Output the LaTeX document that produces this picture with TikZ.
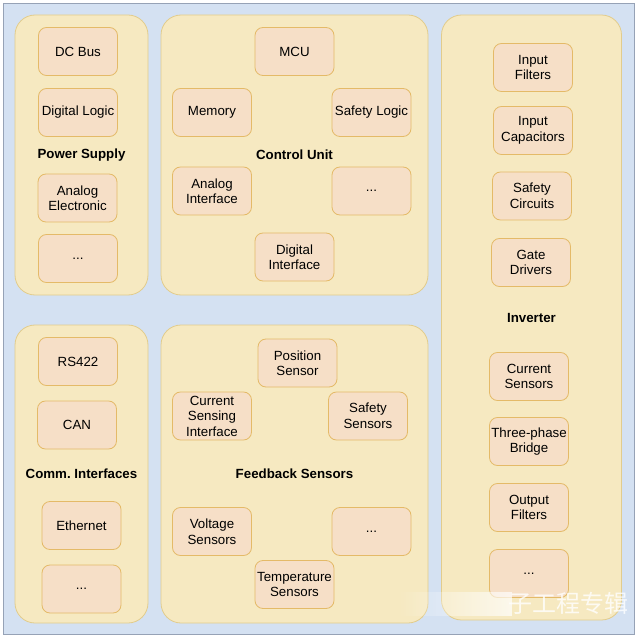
\documentclass[tikz,border=0pt]{standalone}
\usepackage{fontspec}
\setmainfont{Liberation Sans}
\newfontfamily\cjk{Noto Sans CJK SC}
\usetikzlibrary{positioning, fadings}
\frenchspacing

\definecolor{bgfill}{RGB}{212,225,242}
\definecolor{bgline}{RGB}{150,162,182}
\definecolor{grpfill}{RGB}{246,233,193}
\definecolor{grpline}{RGB}{226,204,140}
\definecolor{boxfill}{RGB}{246,223,199}
\definecolor{boxline}{RGB}{228,186,104}

\begin{document}
\begin{tikzpicture}[
  x=1pt, y=-1pt,
  group/.style={draw=grpline, fill=grpfill, line width=0.8pt, rounded corners=20pt, align=center, font=\fontsize{13.3}{15.5}\selectfont\bfseries},
  box/.style={draw=boxline, fill=boxfill, line width=0.8pt, rounded corners=8pt, align=center, inner sep=1pt, minimum width=79pt, minimum height=48pt, font=\fontsize{13.3}{15.5}\selectfont}
]
\useasboundingbox (0,0) rectangle (640,639);
\draw[bgline, fill=bgfill, line width=0.8pt] (3,3) rectangle (634,634);

% groups
\node[group, minimum width=133pt, minimum height=280pt] (psu) at (81.5,155) {Power Supply};
\node[group, minimum width=267pt, minimum height=280pt] (ctrl) at (294.5,155) {Control Unit};
\node[group, minimum width=180pt, minimum height=605pt] (inv) at (531.5,317.5) {Inverter};
\node[group, minimum width=133pt, minimum height=298pt] (comm) at (81.5,474) {Comm. Interfaces};
\node[group, minimum width=267pt, minimum height=298pt] (fb) at (294.5,474) {Feedback Sensors};

% power supply
\node[box] (dcbus) at (78,51.5) {DC Bus};
\node[box] (diglogic) at (78,112.5) {Digital Logic};
\node[box] (analog) at (77.5,198) {Analog\\Electronic};
\node[box] (psumore) at (78,258.5) {...};

% control unit
\node[box] (mcu) at (294.5,51.5) {MCU};
\node[box] (memory) at (212,112.5) {Memory};
\node[box] (safelogic) at (371.5,112.5) {Safety Logic};
\node[box] (anaif) at (212,191) {Analog\\Interface};
\node[box] (ctrlmore) at (371.5,191) {...};
\node[box] (digif) at (294.5,257) {Digital\\Interface};

% inverter
\node[box] (infilt) at (533,67.5) {Input\\Filters};
\node[box] (incap) at (533,130.5) {Input\\Capacitors};
\node[box] (safecirc) at (532,196) {Safety\\Circuits};
\node[box] (gate) at (531,262.5) {Gate\\Drivers};
\node[box] (cursens) at (529,376.5) {Current\\Sensors};
\node[box] (bridge) at (529,441.5) {Three-phase\\Bridge};
\node[box] (outfilt) at (529,507.5) {Output\\Filters};
\node[box] (invmore) at (529,573.5) {...};

% comm. interfaces
\node[box] (rs422) at (78,361.5) {RS422};
\node[box] (can) at (77,425) {CAN};
\node[box] (eth) at (81.5,525.5) {Ethernet};
\node[box] (commmore) at (81.5,589) {...};

% feedback sensors
\node[box] (possens) at (297.5,363) {Position\\Sensor};
\node[box] (cursif) at (212,416) {Current\\Sensing\\Interface};
\node[box] (safesens) at (368,416) {Safety\\Sensors};
\node[box] (voltsens) at (212,531.5) {Voltage\\Sensors};
\node[box] (fbmore) at (371.5,531.5) {...};
\node[box] (tempsens) at (294.5,584.5) {Temperature\\Sensors};

% watermark
\fill[white, opacity=0.7, path fading=west] (398,592) rectangle (512,616);
\node[text=white, opacity=0.8, font=\cjk\fontsize{24}{24}\selectfont] (mark) at (568,603) {子工程专辑};
\end{tikzpicture}
\end{document}
